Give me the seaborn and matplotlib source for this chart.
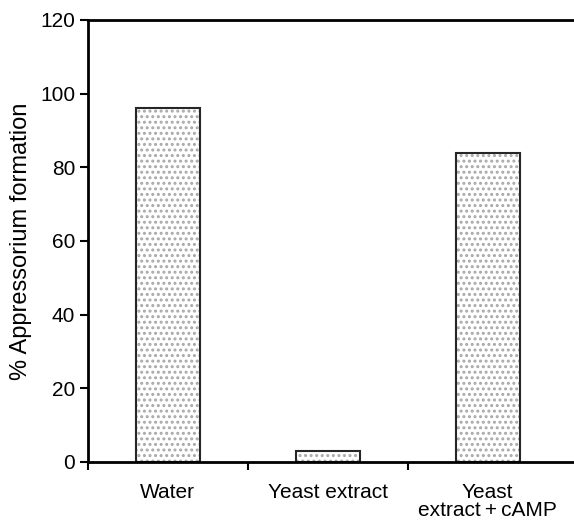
import matplotlib
matplotlib.use("Agg")
import matplotlib.pyplot as plt
import matplotlib.patches as mpatches
import pandas as pd
import seaborn as sns

sns.set_theme(style="ticks")
plt.rcParams["font.family"] = ["Liberation Sans", "DejaVu Sans"]
plt.rcParams["hatch.linewidth"] = 1.4
plt.rcParams["text.color"] = "black"
plt.rcParams["xtick.color"] = "black"
plt.rcParams["ytick.color"] = "black"
plt.rcParams["axes.labelcolor"] = "black"

conditions = ["Water", "Yeast extract", "Yeast\nextract\u2009+\u2009cAMP"]
formation = [96, 3, 84]

df = pd.DataFrame({"condition": conditions, "formation": formation})

fig = plt.figure(figsize=(5.74, 5.26), dpi=100)
ax = fig.add_axes([0.153, 0.122, 0.847, 0.840])

sns.barplot(data=df, x="condition", y="formation", color="white",
            width=0.4, ax=ax, saturation=1)

# light stipple inside, dark outline on top
for p in list(ax.patches):
    p.set_hatch("...")
    p.set_edgecolor("#a8a8a8")
    p.set_linewidth(0)
    ax.add_patch(mpatches.Rectangle(p.get_xy(), p.get_width(), p.get_height(),
                                    fill=False, edgecolor="#262626", linewidth=1.5))

ax.set_ylim(0, 120)
ax.set_yticks([0, 20, 40, 60, 80, 100, 120])
ax.set_xlim(-0.5, 2.54)
ax.set_xticks([-0.5, 0.5, 1.5], minor=True)
ax.tick_params(axis="x", which="major", length=0, pad=15, labelsize=15)
ax.tick_params(axis="x", which="minor", length=6, width=1.5, direction="out")
ax.tick_params(axis="y", length=6, width=1.5, labelsize=15, direction="out", pad=3)
for lab in ax.get_xticklabels():
    lab.set_linespacing(0.95)

for side in ["left", "bottom", "top"]:
    ax.spines[side].set_linewidth(2)
    ax.spines[side].set_color("black")
ax.spines["right"].set_visible(False)

ax.set_xlabel("")
ax.set_ylabel("% Appressorium formation", fontsize=17, labelpad=6)

fig.savefig("out.png", dpi=100)
